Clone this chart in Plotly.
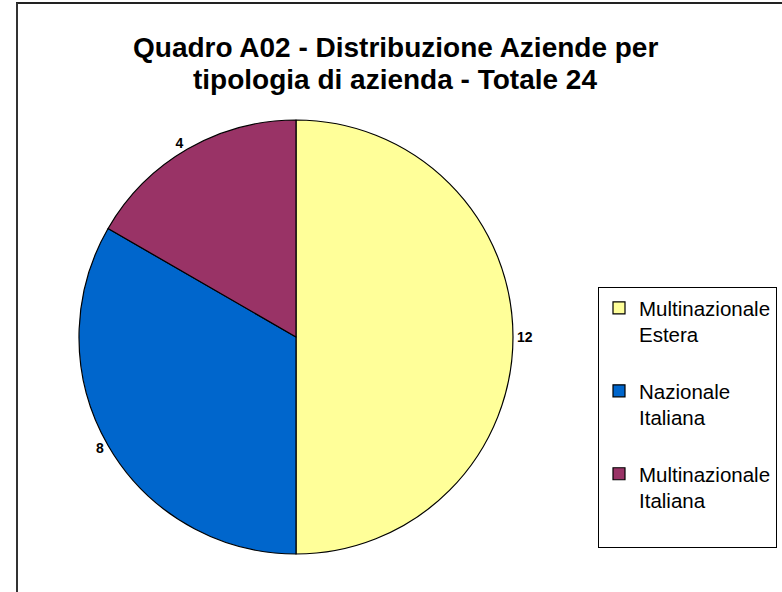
import plotly.graph_objects as go

W, H = 782, 592

categories = ["Multinazionale<br>Estera", "Nazionale<br>Italiana", "Multinazionale<br>Italiana"]
values = [12, 8, 4]
colors = ["#FFFF99", "#0066CC", "#993366"]
title_lines = ["Quadro A02 - Distribuzione Aziende per", "tipologia di azienda - Totale 24"]

FONT = "Liberation Sans, Arial, sans-serif"


def px_x(x):
    return x / W


def px_y(y):
    return 1 - y / H


# an empty third line gives the legend entries the reference's spacing
legend_labels = [c + "<br>\u00a0" for c in categories]

fig = go.Figure()
fig.add_trace(go.Pie(
    labels=legend_labels,
    values=values,
    textinfo="value",
    textposition="outside",
    texttemplate="<b>%{value}</b>",
    outsidetextfont=dict(family=FONT, size=14, color="#000000"),
    marker=dict(colors=colors, line=dict(color="#000000", width=1.2)),
    sort=False,
    direction="clockwise",
    rotation=0,
    domain=dict(x=[px_x(78), px_x(514)], y=[px_y(554), px_y(120)]),
    showlegend=True,
    hoverinfo="label+value",
))

fig.update_layout(
    width=W, height=H,
    margin=dict(l=0, r=0, t=0, b=0),
    paper_bgcolor="#FFFFFF",
    plot_bgcolor="#FFFFFF",
    font=dict(family=FONT, color="#000000"),
    legend=dict(
        x=px_x(598), y=px_y(287), xanchor="left", yanchor="top",
        bordercolor="#000000", borderwidth=1, bgcolor="#FFFFFF",
        font=dict(size=20.5, family=FONT, color="#000000"),
        itemwidth=30,
        valign="top",
        traceorder="normal",
    ),
    annotations=[
        dict(
            text="<b>" + line + "</b>",
            x=px_x(395), y=px_y(yc), xref="paper", yref="paper",
            xanchor="center", yanchor="middle", showarrow=False,
            font=dict(size=28, family=FONT, color="#000000"),
        )
        for line, yc in zip(title_lines, [47, 80])
    ],
    shapes=[
        dict(type="line", xref="paper", yref="paper",
             x0=px_x(16), y0=px_y(3), x1=1.0, y1=px_y(3),
             line=dict(color="#222222", width=2)),
        dict(type="line", xref="paper", yref="paper",
             x0=px_x(17), y0=px_y(3), x1=px_x(17), y1=0.0,
             line=dict(color="#333333", width=2)),
    ],
)

fig.write_html("out.html", config={"displayModeBar": False},
               post_script="document.body.style.margin='0px';")
